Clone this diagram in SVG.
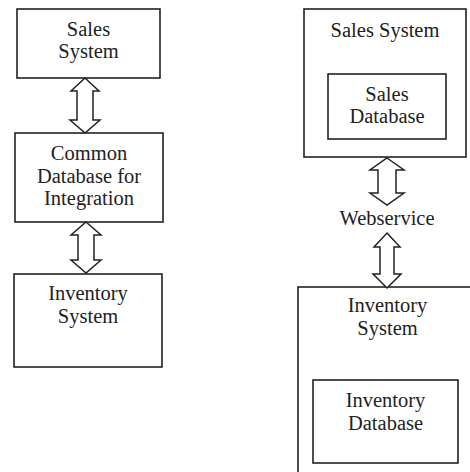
<svg xmlns="http://www.w3.org/2000/svg" width="470" height="472" viewBox="0 0 470 472">
<style>
.box{fill:#fff;stroke:#222;stroke-width:1.6}
.arr{fill:#fff;stroke:#222;stroke-width:1.5;stroke-linejoin:miter}
text{font-family:"Liberation Serif","Times New Roman",serif;font-size:20.5px;fill:#222;text-anchor:middle}
</style>
<rect width="470" height="472" fill="#fff"/>
<g id="sales-system-left">
<rect class="box" x="17" y="9" width="143" height="69"/>
<text x="88.5" y="36">Sales</text>
<text x="88.5" y="58">System</text>
</g>
<g id="common-db">
<rect class="box" x="15" y="133" width="148" height="89"/>
<text x="89" y="160">Common</text>
<text x="89" y="183">Database for</text>
<text x="89" y="205">Integration</text>
</g>
<g id="inventory-system-left">
<rect class="box" x="14" y="274" width="148" height="93"/>
<text x="88" y="300">Inventory</text>
<text x="88" y="323">System</text>
</g>
<g id="sales-system-right">
<rect class="box" x="304" y="9" width="162" height="148"/>
<text x="385" y="37">Sales System</text>
</g>
<g id="sales-database">
<rect class="box" x="328" y="74" width="118" height="65"/>
<text x="387" y="101">Sales</text>
<text x="387" y="123">Database</text>
</g>
<g id="webservice">
<text x="387" y="225">Webservice</text>
</g>
<g id="inventory-system-right">
<rect class="box" x="298" y="287" width="200" height="200"/>
<text x="387.5" y="312">Inventory</text>
<text x="387.5" y="335">System</text>
</g>
<g id="inventory-database">
<rect class="box" x="313" y="380" width="145" height="83"/>
<text x="385.5" y="407">Inventory</text>
<text x="385.5" y="430">Database</text>
</g>
<g id="connectors">
<polygon class="arr" points="85,78 99,91 93,91 93,120 100,120 85,133 70,120 77,120 77,91 71,91"/>
<polygon class="arr" points="86,222 101,235 94,235 94,260 101,260 86,273 71,260 78,260 78,235 71,235"/>
<polygon class="arr" points="387,158 404,170 396,170 396,193 404,193 387,205 370,193 378,193 378,170 370,170"/>
<polygon class="arr" points="387,233 400,247 394,247 394,274 401,274 387,288 373,274 380,274 380,247 374,247"/>
</g>
</svg>
